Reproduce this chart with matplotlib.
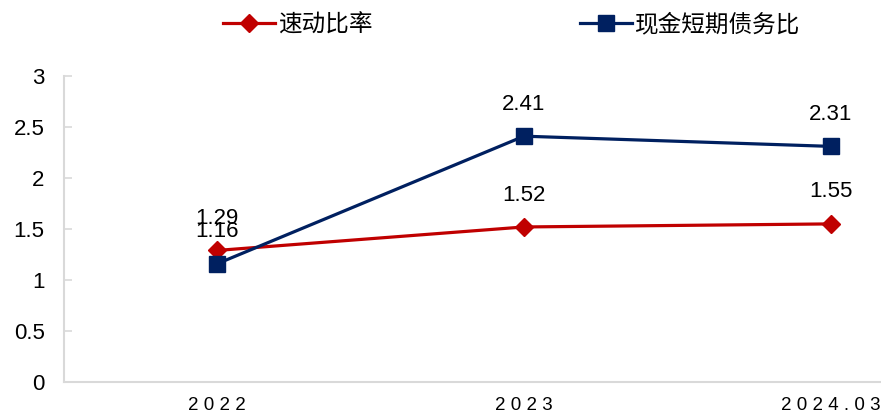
import matplotlib
matplotlib.use("Agg")
import matplotlib.pyplot as plt
from matplotlib.lines import Line2D

plt.rcParams['font.family'] = ['Liberation Sans', 'Noto Sans CJK SC', 'DejaVu Sans']

categories = ["2022", "2023", "2024.03"]
quick_ratio = [1.29, 1.52, 1.55]
cash_ratio = [1.16, 2.41, 2.31]
series_names = ["速动比率", "现金短期债务比"]
yticks = [0, 0.5, 1, 1.5, 2, 2.5, 3]
ytick_labels = ["0", "0.5", "1", "1.5", "2", "2.5", "3"]

red = "#C00000"
navy = "#002060"

fig = plt.figure(figsize=(8.81, 4.17), dpi=100)
ax = fig.add_axes([64/881, 1-382/417, (984-64)/881, (382-76)/417])

x = list(range(len(categories)))
ax.plot(x, quick_ratio, color=red, lw=2.3, marker='D', ms=9, zorder=3)
ax.plot(x, cash_ratio, color=navy, lw=2.3, marker='s', ms=11, zorder=4)

for xi, v in zip(x, quick_ratio):
    ax.annotate(f"{v:.2f}", (xi, v), xytext=(0, 23), textcoords='offset points',
                ha='center', va='center', fontsize=16, color='black')
for xi, v in zip(x, cash_ratio):
    ax.annotate(f"{v:.2f}", (xi, v), xytext=(0, 23), textcoords='offset points',
                ha='center', va='center', fontsize=16, color='black')

ax.set_xlim(-0.5, 2.5)
ax.set_ylim(0, 3)
ax.set_yticks(yticks)
ax.set_yticklabels(ytick_labels, fontsize=16)
ax.set_xticks(x)
ax.set_xticklabels([" ".join(c) for c in categories], fontsize=13.5)
ax.tick_params(axis='x', length=0, pad=11)
ax.tick_params(axis='y', direction='in', length=6, width=1.2, color='#D9D9D9', pad=14)

for s in ['top', 'right']:
    ax.spines[s].set_visible(False)
for s in ['left', 'bottom']:
    ax.spines[s].set_color('#D9D9D9')
    ax.spines[s].set_linewidth(1.5)

handles = [Line2D([], [], color=red, lw=2.3, marker='D', ms=9),
           Line2D([], [], color=navy, lw=2.3, marker='s', ms=11)]
fig.legend(handles, series_names, loc='center', bbox_to_anchor=(512/881, 1-25/417),
           ncol=2, frameon=False, prop={'family': ['Noto Sans CJK SC'], 'size': 17},
           handlelength=2.2, handletextpad=0.12, columnspacing=8.8)

fig.savefig("out.png", dpi=100)
